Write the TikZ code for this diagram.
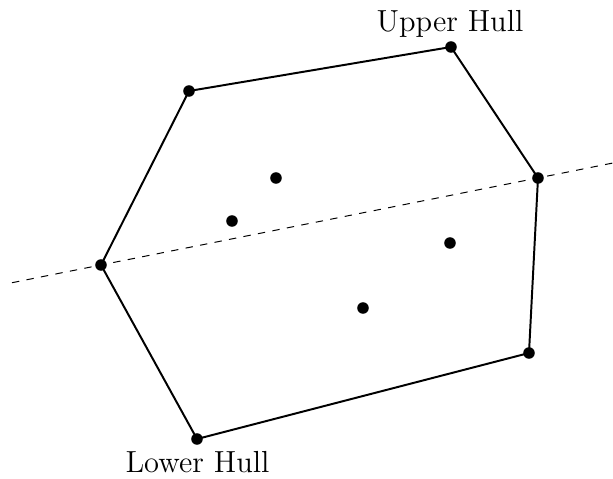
\documentclass[tikz,border=0pt]{standalone}
\usepackage{tikz}
\usetikzlibrary{calc}

\begin{document}
\begin{tikzpicture}[
  x=0.0143cm, y=-0.0143cm,
  pt/.style={circle, fill=black, inner sep=0pt, minimum size=0.165cm},
  hull/.style={line width=0.8pt},
  lbl/.style={font=\fontsize{12.4}{15}\selectfont}
]
  \useasboundingbox (0,0) rectangle (613,479);

  % Hull points
  \node[pt] (p1) at (101,265) {};
  \node[pt] (p2) at (189,91) {};
  \node[pt] (p3) at (451,47) {};
  \node[pt] (p4) at (538,178) {};
  \node[pt] (p5) at (529,353) {};
  \node[pt] (p6) at (197,439) {};

  % Interior points
  \node[pt] (q1) at (276,178) {};
  \node[pt] (q2) at (232,221) {};
  \node[pt] (q3) at (450,243) {};
  \node[pt] (q4) at (363,308) {};

  % Hull edges
  \draw[hull] (p1.center) -- (p2.center) -- (p3.center) -- (p4.center)
    -- (p5.center) -- (p6.center) -- (p1.center);

  % Dividing line
  \coordinate (lA) at (12,282.7);
  \coordinate (lB) at (613,163);
  \draw[dashed, thin] (lA) -- (lB);

  % Labels
  \node[lbl] (up) at (450,23.5) {Upper Hull};
  \node[lbl] (lo) at (197.5,462.5) {Lower Hull};
\end{tikzpicture}
\end{document}
